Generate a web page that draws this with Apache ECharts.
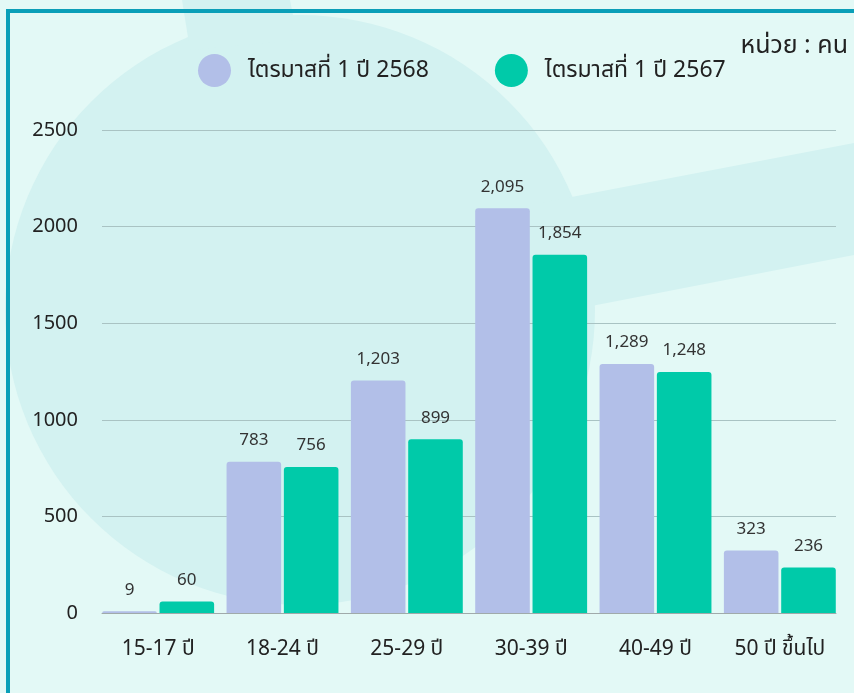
<!DOCTYPE html>
<html>
<head>
<meta charset="utf-8">
<script src="https://cdn.jsdelivr.net/npm/echarts@6/dist/echarts.min.js"></script>
<style>
html,body{margin:0;padding:0;background:#e3f9f6;}
#c{width:854px;height:693px;}
</style>
</head>
<body>
<div id="c"></div>
<script>
var categories = ['15-17 ปี', '18-24 ปี', '25-29 ปี', '30-39 ปี', '40-49 ปี', '50 ปี ขึ้นไป'];
var seriesNames = ['ไตรมาสที่ 1 ปี 2568', 'ไตรมาสที่ 1 ปี 2567'];
var values2568 = [9, 783, 1203, 2095, 1289, 323];
var values2567 = [60, 756, 899, 1854, 1248, 236];
var unitText = 'หน่วย : คน';

var FONT = '"Noto Sans", "Noto Sans Thai", "DejaVu Sans", sans-serif';
var chart = echarts.init(document.getElementById('c'), null, {renderer: 'canvas'});
var shapeColor = '#d3f2f1';
function fmt(p){ return Number(p.value).toLocaleString('en-US'); }
var option = {
  backgroundColor: '#e3f9f6',
  animation: false,
  textStyle: {fontFamily: FONT},
  graphic: [
    {type: 'circle', z: -10, silent: true, shape: {cx: 300, cy: 310, r: 295}, style: {fill: shapeColor}},
    {type: 'polygon', z: -10, silent: true, shape: {points: [[182,0],[290,0],[298,40],[190,50]]}, style: {fill: shapeColor}},
    {type: 'polygon', z: -10, silent: true, shape: {points: [[540,203],[854,143],[854,255],[540,316]]}, style: {fill: shapeColor}},
    {type: 'rect', z: 100, silent: true, shape: {x: 6, y: 9, width: 848, height: 4}, style: {fill: '#0a9fb8'}},
    {type: 'rect', z: 100, silent: true, shape: {x: 6, y: 9, width: 4, height: 684}, style: {fill: '#0a9fb8'}},
    {type: 'text', z: 100, right: 6, top: 33, style: {text: unitText, fill: '#222', font: '25px ' + FONT}}
  ],
  legend: {
    left: 198, top: 54, padding: 0,
    itemWidth: 33, itemHeight: 33, itemGap: 66,
    icon: 'circle',
    textStyle: {fontSize: 23, color: '#222', fontFamily: FONT, padding: [0, 0, 0, 12]},
    data: seriesNames
  },
  grid: [
    {left: 96, right: 12, top: 130, bottom: 80, containLabel: false},
    {left: 102, right: 18, top: 130, bottom: 80, containLabel: false}
  ],
  xAxis: [
    {type: 'category', data: categories, gridIndex: 0,
     axisTick: {show: false}, axisLine: {show: false},
     axisLabel: {fontSize: 21, color: '#222', margin: 26, fontFamily: FONT}},
    {type: 'category', data: categories, gridIndex: 1,
     axisTick: {show: false},
     axisLine: {lineStyle: {color: '#a0aaaa', width: 1}},
     axisLabel: {show: false}}
  ],
  yAxis: [
    {type: 'value', gridIndex: 0, min: 0, max: 2500, interval: 500,
     axisLine: {show: false}, axisTick: {show: false}, axisLabel: {show: false}, splitLine: {show: false}},
    {type: 'value', gridIndex: 1, min: 0, max: 2500, interval: 500,
     axisLine: {show: false}, axisTick: {show: false},
     axisLabel: {fontSize: 20, color: '#222', margin: 24, fontFamily: FONT, formatter: function(v){ return String(v); }},
     splitLine: {lineStyle: {color: '#a9c3c3', width: 1}}}
  ],
  series: [
    {name: seriesNames[0], type: 'bar', data: values2568, barGap: '5%', barCategoryGap: '10%', z: 3,
     itemStyle: {color: '#b2bfe8', borderRadius: [3,3,0,0]},
     label: {show: true, position: 'top', distance: 13, fontSize: 17, color: '#333', formatter: fmt}},
    {name: seriesNames[1], type: 'bar', data: values2567, barGap: '5%', barCategoryGap: '10%', z: 3,
     itemStyle: {color: '#00caa9', borderRadius: [3,3,0,0]},
     label: {show: true, position: 'top', distance: 13, fontSize: 17, color: '#333', formatter: fmt}}
  ]
};
chart.setOption(option);
</script>
</body>
</html>
